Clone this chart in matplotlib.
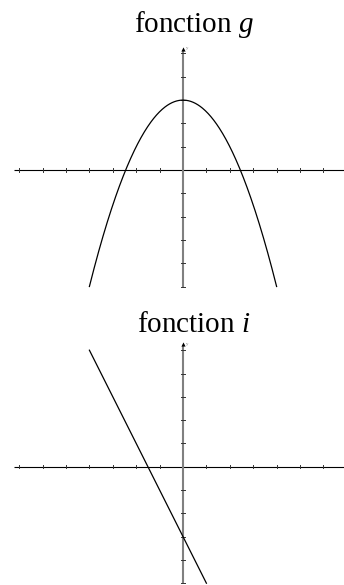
import numpy as np
import matplotlib
matplotlib.use("Agg")
import matplotlib.pyplot as plt

plt.rcParams["mathtext.fontset"] = "custom"
plt.rcParams["mathtext.it"] = "Liberation Serif:italic"
plt.rcParams["mathtext.rm"] = "Liberation Serif"

# ---- data ----
titles_prefix = ["fonction", "fonction"]
titles_var = ["g", "i"]
# g(x) = -0.5 x^2 + 3 on [-4, 4]
g_coeffs = [-0.5, 0.0, 3.0]
g_domain = [-4.0, 4.0]
# i(x) = -2 x - 3 on [-4, 1]
i_coeffs = [-2.0, -3.0]
i_domain = [-4.0, 1.0]
x_ticks = list(range(-7, 7))
y_ticks = [-5, -4, -3, -2, -1, 1, 2, 3, 4, 5]

W, H = 344, 585
DPI = 100
fig = plt.figure(figsize=(W / DPI, H / DPI), dpi=DPI)

unit_x = 23.4
unit_y = 23.3
ox = 183.0


def make_axes(top_px, bot_px, y0_px):
    ax = fig.add_axes([0, 1 - bot_px / H, 1, (bot_px - top_px) / H])
    ax.set_xlim(-ox / unit_x, (W - ox) / unit_x)
    ax.set_ylim(-(bot_px - y0_px) / unit_y, (y0_px - top_px) / unit_y)
    ax.axis("off")
    return ax


panels = [
    dict(top=0, bot=300, y0=170.0, coeffs=g_coeffs, dom=g_domain,
         yaxis=(-5.06, 5.24), title_y=(170 - 31.7) / 23.3),
    dict(top=300, bot=585, y0=466.7, coeffs=i_coeffs, dom=i_domain,
         yaxis=(-5.0, 5.3), title_y=(466.7 - 331.7) / 23.3),
]

for k, p in enumerate(panels):
    ax = make_axes(p["top"], p["bot"], p["y0"])
    # x axis
    ax.plot([-169 / unit_x, 7.0], [0, 0], color="black", lw=0.8, solid_capstyle="butt")
    for t in x_ticks:
        ax.plot([t, t], [-0.07, 0.07], color="#333333", lw=0.7)
    # y axis
    ax.plot([0, 0], [p["yaxis"][0], p["yaxis"][1] - 0.1], color="#808080", lw=1.5,
            solid_capstyle="butt")
    for t in y_ticks:
        ax.plot([-0.07, 0.07], [t, t], color="#333333", lw=0.7)
    ax.plot([0], [p["yaxis"][1] - 0.05], marker="^", color="black", ms=3.0, mew=0)
    ax.text(0.12, p["yaxis"][1] - 0.02, "y", fontsize=3.5, color="#808080",
            ha="left", va="center", family="Liberation Serif")
    # curve
    xs = np.linspace(p["dom"][0], p["dom"][1], 400)
    ax.plot(xs, np.polyval(p["coeffs"], xs), color="black", lw=0.9)
    # title
    ax.text(0.47, p["title_y"], titles_prefix[k] + " " + "$\\mathit{" + titles_var[k] + "}$",
            ha="center", va="baseline", fontsize=21, family="Liberation Serif",
            color="black")

fig.savefig("out.png", dpi=DPI)
